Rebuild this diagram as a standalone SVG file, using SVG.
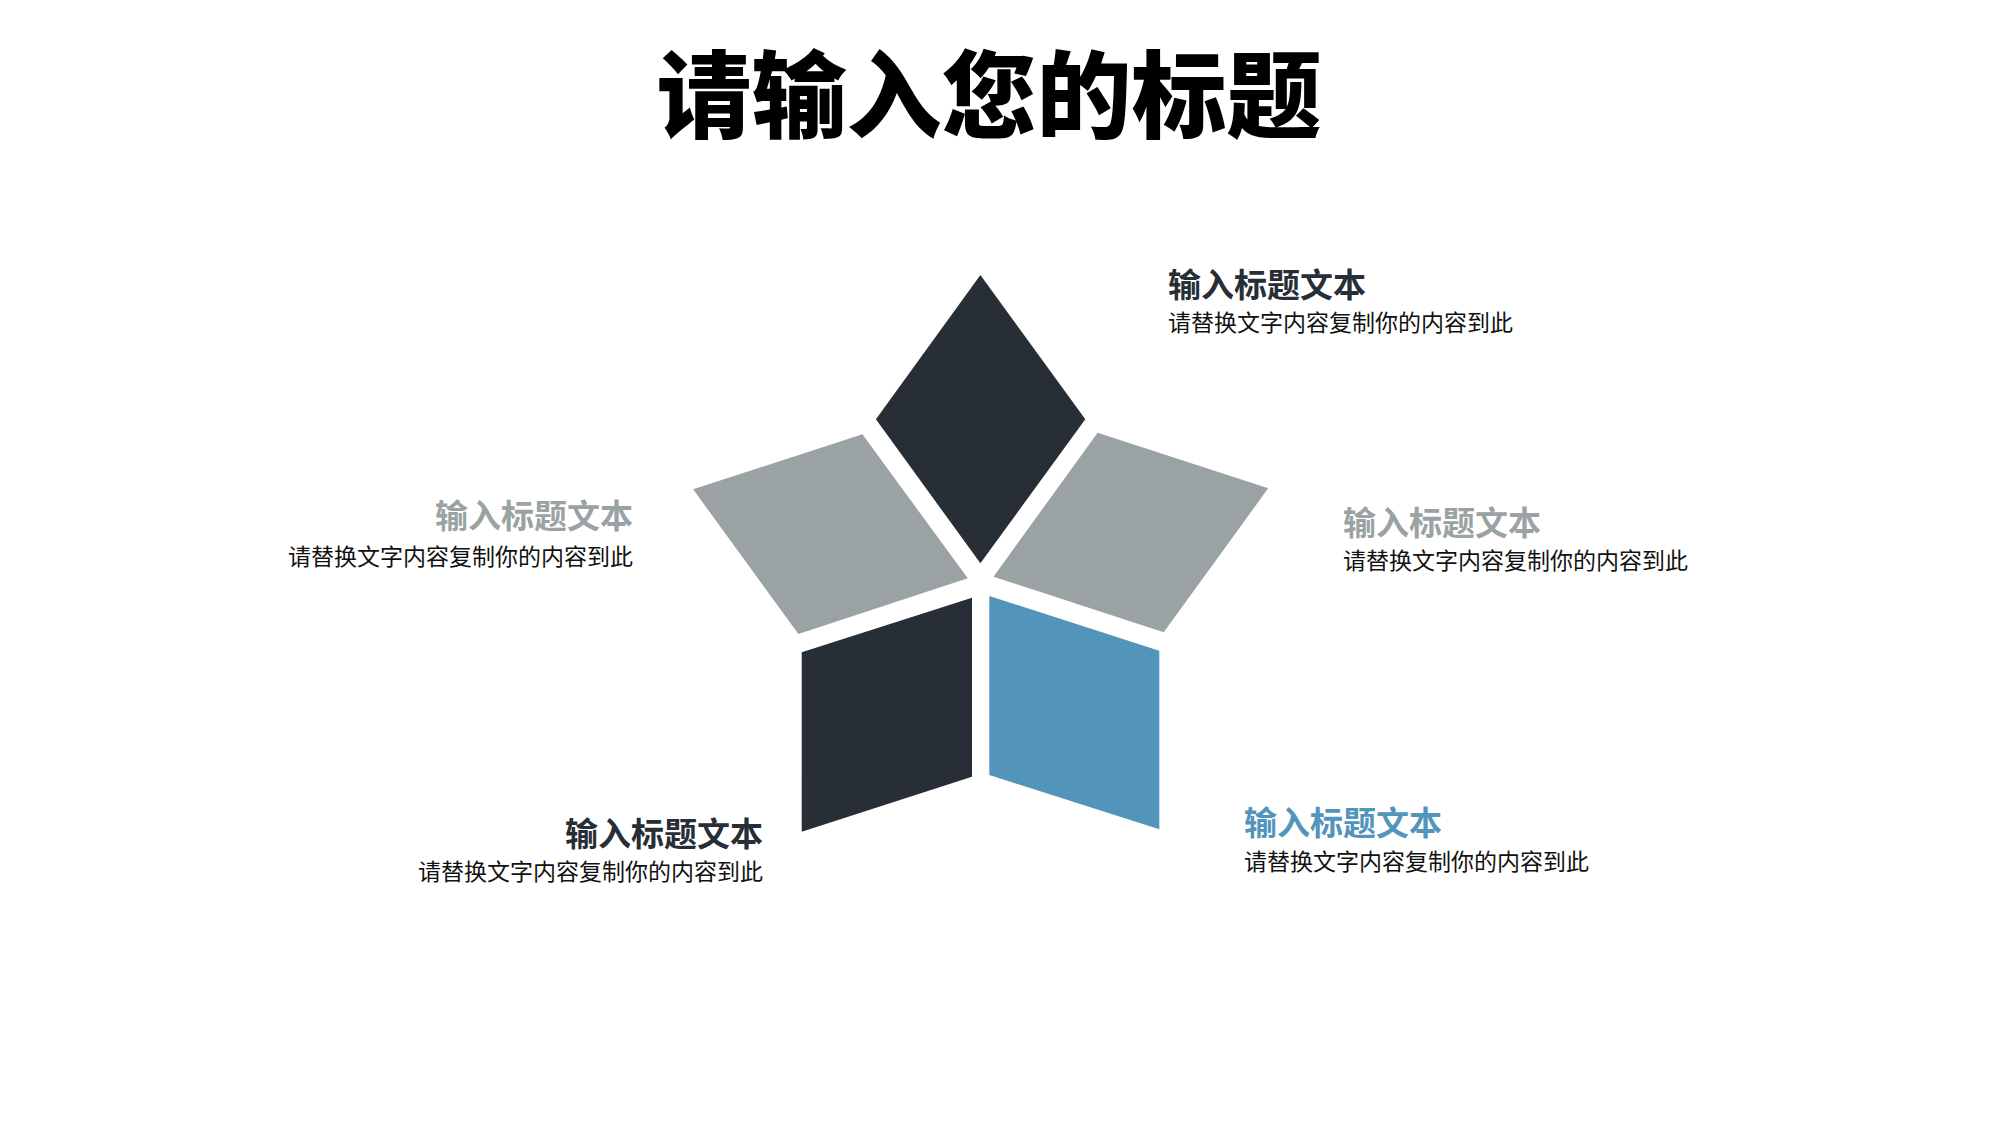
<svg xmlns="http://www.w3.org/2000/svg" width="2000" height="1125" viewBox="0 0 2000 1125">
  <style>
    text { font-family: "Noto Sans CJK SC", "Noto Sans", sans-serif; }
    .main { font-size: 95px; font-weight: 900; fill: #000000; }
    .h { font-size: 33px; font-weight: 700; }
    .s { font-size: 23px; font-weight: 400; fill: #111111; }
    .dark { fill: #272e35; }
    .gray { fill: #9aa2a4; }
    .blue { fill: #5394bb; }
  </style>
  <rect x="0" y="0" width="2000" height="1125" fill="#ffffff"/>
  <text class="main" x="989" y="131" text-anchor="middle">请输入您的标题</text>

  <g id="connectors"></g>

  <g id="petal-top">
    <polygon class="dark" points="980.4,275 1085.3,419.3 980.4,563.3 875.9,419.3"/>
  </g>
  <g id="petal-left">
    <polygon class="gray" points="862.4,434.3 967.8,578.3 798.4,634 693.1,489.3"/>
  </g>
  <g id="petal-right">
    <polygon class="gray" points="1097.6,432.7 1268.2,488.3 1163.7,632.3 993.5,576.7"/>
  </g>
  <g id="petal-bottom-left">
    <polygon class="dark" points="972,597.7 972,776.7 801.7,831.7 801.7,652.3"/>
  </g>
  <g id="petal-bottom-right">
    <polygon class="blue" points="989.3,596 1159.3,650.7 1159.3,829.3 989.3,775"/>
  </g>

  <g id="label-top">
    <text class="h dark" x="1168" y="297">输入标题文本</text>
    <text class="s" x="1168" y="331">请替换文字内容复制你的内容到此</text>
  </g>
  <g id="label-left">
    <text class="h gray" x="633" y="528" text-anchor="end">输入标题文本</text>
    <text class="s" x="633" y="564.5" text-anchor="end">请替换文字内容复制你的内容到此</text>
  </g>
  <g id="label-right">
    <text class="h gray" x="1343" y="534.5">输入标题文本</text>
    <text class="s" x="1343" y="568.5">请替换文字内容复制你的内容到此</text>
  </g>
  <g id="label-bottom-left">
    <text class="h dark" x="763" y="846" text-anchor="end">输入标题文本</text>
    <text class="s" x="763" y="880" text-anchor="end">请替换文字内容复制你的内容到此</text>
  </g>
  <g id="label-bottom-right">
    <text class="h blue" x="1244" y="834.5">输入标题文本</text>
    <text class="s" x="1244" y="870">请替换文字内容复制你的内容到此</text>
  </g>
</svg>
